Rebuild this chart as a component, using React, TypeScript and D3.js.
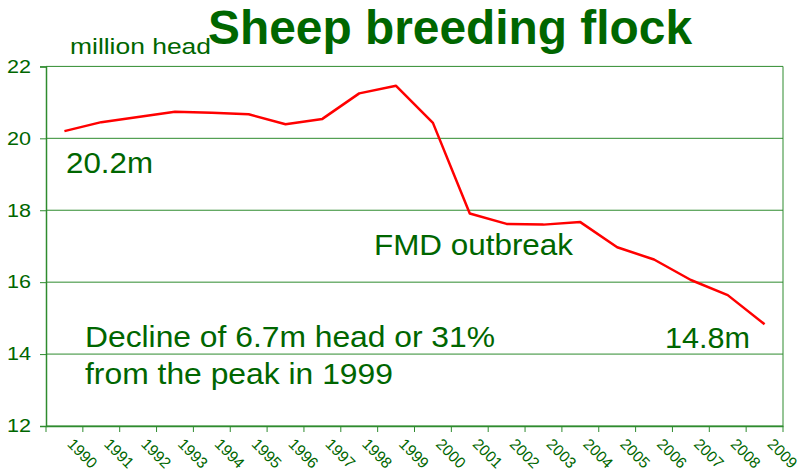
import React, { useEffect, useRef } from 'react';
import * as d3 from 'd3';

// Sheep breeding flock, million head
const years = [
  '1990', '1991', '1992', '1993', '1994', '1995', '1996', '1997', '1998', '1999',
  '2000', '2001', '2002', '2003', '2004', '2005', '2006', '2007', '2008', '2009',
];
const flock = [
  20.2, 20.45, 20.59, 20.74, 20.71, 20.67, 20.39, 20.54, 21.25, 21.46,
  20.43, 17.91, 17.62, 17.6, 17.67, 16.97, 16.63, 16.06, 15.64, 14.83,
];
const yTicks = [12, 14, 16, 18, 20, 22];

const TEXT = '#006600';
const AXIS = '#2e8b2e';

const App = () => {
  const chartRef = useRef<SVGSVGElement | null>(null);

  useEffect(() => {
    const width = 800;
    const height = 476;
    const margin = { top: 66.4, right: 17, bottom: 50, left: 46 };

    const svg = d3.select(chartRef.current);
    svg.selectAll('*').remove();
    svg.attr('width', width).attr('height', height);

    const x = d3
      .scaleBand()
      .domain(years)
      .range([margin.left, width - margin.right])
      .padding(0);

    const y = d3
      .scaleLinear()
      .domain([12, 22])
      .range([height - margin.bottom, margin.top]);

    const font = '"Liberation Sans", Arial, sans-serif';

    // gridlines
    svg
      .append('g')
      .selectAll('line')
      .data(yTicks)
      .enter()
      .append('line')
      .attr('x1', margin.left)
      .attr('x2', width - margin.right)
      .attr('y1', (d) => y(d))
      .attr('y2', (d) => y(d))
      .attr('stroke', AXIS)
      .attr('stroke-width', 1);

    // right border
    svg
      .append('line')
      .attr('x1', width - margin.right)
      .attr('x2', width - margin.right)
      .attr('y1', y(22))
      .attr('y2', y(12))
      .attr('stroke', AXIS);

    // y axis
    const yAxis = d3.axisLeft(y).tickValues(yTicks).tickSize(6).tickPadding(9);
    const gy = svg
      .append('g')
      .attr('transform', `translate(${margin.left},0)`)
      .call(yAxis);
    gy.select('.domain').attr('stroke', AXIS).attr('stroke-width', 1.5);
    gy.selectAll('.tick line').attr('stroke', AXIS);
    gy.selectAll('.tick text')
      .attr('fill', TEXT)
      .attr('font-family', font)
      .attr('font-size', 18)
      .attr('textLength', 24)
      .attr('lengthAdjust', 'spacingAndGlyphs');

    // x axis
    const xAxis = d3.axisBottom(x).tickSize(0).tickFormat(() => '');
    const gx = svg
      .append('g')
      .attr('transform', `translate(0,${y(12)})`)
      .call(xAxis);
    gx.select('.domain').attr('stroke', AXIS).attr('stroke-width', 1.5);
    gx.selectAll('.tick').remove();

    const edges = years.map((d) => x(d) as number).concat([width - margin.right]);
    svg
      .append('g')
      .selectAll('line')
      .data(edges)
      .enter()
      .append('line')
      .attr('x1', (d) => d)
      .attr('x2', (d) => d)
      .attr('y1', y(12))
      .attr('y2', y(12) + 6)
      .attr('stroke', AXIS);

    svg
      .append('g')
      .selectAll('text')
      .data(years)
      .enter()
      .append('text')
      .attr('transform', (d) => {
        const cx = (x(d) as number) + x.bandwidth() / 2 + 2;
        return `translate(${cx},${y(12) + 19}) rotate(45)`;
      })
      .attr('fill', TEXT)
      .attr('font-family', font)
      .attr('font-size', 15.5)
      .text((d) => d);

    // the line
    const line = d3
      .line<number>()
      .x((d, i) => (x(years[i]) as number) + x.bandwidth() / 2)
      .y((d) => y(d));

    svg
      .append('path')
      .datum(flock)
      .attr('d', line)
      .attr('fill', 'none')
      .attr('stroke', '#ff0000')
      .attr('stroke-width', 2.5)
      .attr('stroke-linejoin', 'round');

    // titles
    svg
      .append('text')
      .attr('x', 450)
      .attr('y', 44)
      .attr('text-anchor', 'middle')
      .attr('fill', TEXT)
      .attr('font-family', font)
      .attr('font-weight', 'bold')
      .attr('font-size', 48)
      .attr('textLength', 484)
      .attr('lengthAdjust', 'spacingAndGlyphs')
      .text('Sheep breeding flock');

    svg
      .append('text')
      .attr('x', 70)
      .attr('y', 54)
      .attr('fill', TEXT)
      .attr('font-family', font)
      .attr('font-size', 22)
      .attr('textLength', 141)
      .attr('lengthAdjust', 'spacingAndGlyphs')
      .text('million head');

    // annotations
    const notes = [
      { text: '20.2m', x: 66, y: 173, w: 87 },
      { text: 'FMD outbreak', x: 374, y: 255, w: 199 },
      { text: 'Decline of 6.7m head or 31%', x: 85, y: 347, w: 410 },
      { text: 'from the peak in 1999', x: 85, y: 384, w: 308 },
      { text: '14.8m', x: 665, y: 348, w: 85 },
    ];
    svg
      .append('g')
      .selectAll('text')
      .data(notes)
      .enter()
      .append('text')
      .attr('x', (d) => d.x)
      .attr('y', (d) => d.y)
      .attr('fill', TEXT)
      .attr('font-family', font)
      .attr('font-size', 29)
      .attr('textLength', (d) => d.w)
      .attr('lengthAdjust', 'spacingAndGlyphs')
      .text((d) => d.text);

    return () => {
      d3.select(chartRef.current).selectAll('*').remove();
    };
  }, []);

  return (
    <svg
      ref={chartRef}
      style={{ position: 'absolute', left: 0, top: 0, background: '#fff' }}
    />
  );
};

export default App;
